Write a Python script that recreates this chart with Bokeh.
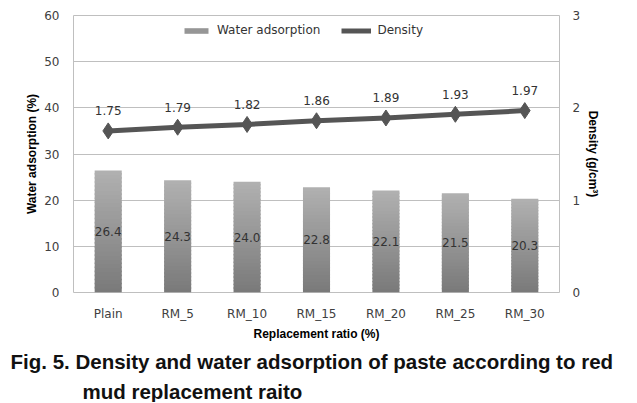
from bokeh.plotting import figure
from bokeh.models import (ColumnDataSource, Range1d, LinearAxis, FactorRange,
                          Legend, LegendItem, Title, FixedTicker)
from bokeh.core.properties import value
from bokeh.embed import file_html
from bokeh.resources import INLINE

# ---- data ----
categories = ["Plain", "RM_5", "RM_10", "RM_15", "RM_20", "RM_25", "RM_30"]
water_adsorption = [26.4, 24.3, 24.0, 22.8, 22.1, 21.5, 20.3]
density = [1.75, 1.79, 1.82, 1.86, 1.89, 1.93, 1.97]
left_ticks = [0, 10, 20, 30, 40, 50, 60]
right_ticks = [0, 1, 2, 3]

FONT = "DejaVu Sans"
BOLD_FONT = "Liberation Sans"

p = figure(x_range=FactorRange(*categories, range_padding=0),
           y_range=Range1d(0, 60),
           frame_width=486, frame_height=277,
           min_border_left=73, min_border_right=70,
           min_border_top=15, min_border_bottom=108,
           output_backend="svg", toolbar_location=None,
           background_fill_color="white", border_fill_color="white")
p.extra_y_ranges = {"density": Range1d(0, 3)}

p.outline_line_color = "#bfbfbf"
p.outline_line_width = 1
p.xgrid.visible = False
p.ygrid.grid_line_color = "#bfbfbf"
p.ygrid.ticker = FixedTicker(ticks=left_ticks)

# ---- gradient bars (stacked slices of each bar) ----
N = 30
top_rgb = (0xb0, 0xb0, 0xb0)
bot_rgb = (0x7a, 0x7a, 0x7a)
xs, bottoms, tops, colors = [], [], [], []
for c, v in zip(categories, water_adsorption):
    for i in range(N):
        t = i / (N - 1)
        rgb = tuple(int(round(b + (a - b) * t)) for a, b in zip(top_rgb, bot_rgb))
        xs.append(c)
        bottoms.append(v * i / N)
        tops.append(min(v, v * (i + 1.4) / N))
        colors.append("#%02x%02x%02x" % rgb)
bar_src = ColumnDataSource(dict(x=xs, bottom=bottoms, top=tops, color=colors))
bars = p.vbar(x="x", bottom="bottom", top="top", width=0.39, fill_color="color",
              line_color=None, source=bar_src)

# water labels at mid-height of bars
wsrc = ColumnDataSource(dict(x=categories, y=[v / 2 for v in water_adsorption],
                             t=["%.1f" % v for v in water_adsorption]))
p.text(x="x", y="y", text="t", source=wsrc, text_align="center",
       text_baseline="middle", text_font=value(FONT), text_font_size="12px",
       text_color="#333333")

# ---- density line ----
dsrc = ColumnDataSource(dict(x=categories, y=density,
                             t=["%.2f" % v for v in density]))
line_r = p.line(x="x", y="y", source=dsrc, y_range_name="density",
                line_color="#555555", line_width=5)
mark_r = p.scatter(x="x", y="y", source=dsrc, y_range_name="density",
                   marker="diamond", size=16, fill_color="#555555",
                   line_color="#555555")
p.text(x="x", y="y", text="t", source=dsrc, y_range_name="density",
       y_offset=-20, text_align="center", text_baseline="middle",
       text_font=value(FONT), text_font_size="12px", text_color="#333333")

# ---- axes ----
p.yaxis.ticker = FixedTicker(ticks=left_ticks)
right_axis = LinearAxis(y_range_name="density", ticker=FixedTicker(ticks=right_ticks))
p.add_layout(right_axis, "right")

for ax in [p.xaxis[0], p.yaxis[0], right_axis]:
    ax.axis_line_color = None
    ax.major_tick_line_color = None
    ax.minor_tick_line_color = None
    ax.major_tick_out = 0
    ax.major_tick_in = 0
    ax.minor_tick_out = 0
    ax.minor_tick_in = 0
    ax.major_label_text_font = FONT
    ax.major_label_text_font_size = "12px"
    ax.major_label_text_color = "#404040"
    ax.axis_label_text_font = BOLD_FONT
    ax.axis_label_text_font_style = "bold"
    ax.axis_label_text_font_size = "12px"
    ax.axis_label_text_color = "#000000"

p.xaxis.axis_label = "Replacement ratio (%)"
p.xaxis.major_label_standoff = 14
p.xaxis.axis_label_standoff = 3
p.yaxis[0].axis_label = "Water adsorption (%)"
p.yaxis[0].major_label_standoff = 14
p.yaxis[0].axis_label_standoff = 2
right_axis.axis_label = "Density (g/cm\u00b3)"
right_axis.major_label_standoff = 13
right_axis.axis_label_standoff = 3

# ---- legend ----
legend = Legend(items=[
    LegendItem(label="Water adsorption", renderers=[bars], index=N // 2),
    LegendItem(label="Density", renderers=[line_r, mark_r]),
], orientation="horizontal", location=(108, 255))
legend.border_line_color = None
legend.background_fill_alpha = 0
legend.padding = 0
legend.margin = 0
legend.spacing = 21
legend.glyph_width = 30
legend.glyph_height = 7
legend.label_standoff = 6
legend.label_text_font = FONT
legend.label_text_font_size = "12px"
legend.label_text_color = "#333333"
p.add_layout(legend)

# ---- caption (two lines below the x axis) ----
cap_kw = dict(align="left", text_font=BOLD_FONT, text_font_style="bold",
              text_font_size="20.5px", text_color="#111111")
p.add_layout(Title(text="Fig. 5. Density and water adsorption of paste according to red",
                   offset=-63, standoff=9, **cap_kw), "below")
p.add_layout(Title(text="mud replacement raito", offset=9, standoff=0, **cap_kw), "below")

open("out.html", "w").write(file_html(p, INLINE))
